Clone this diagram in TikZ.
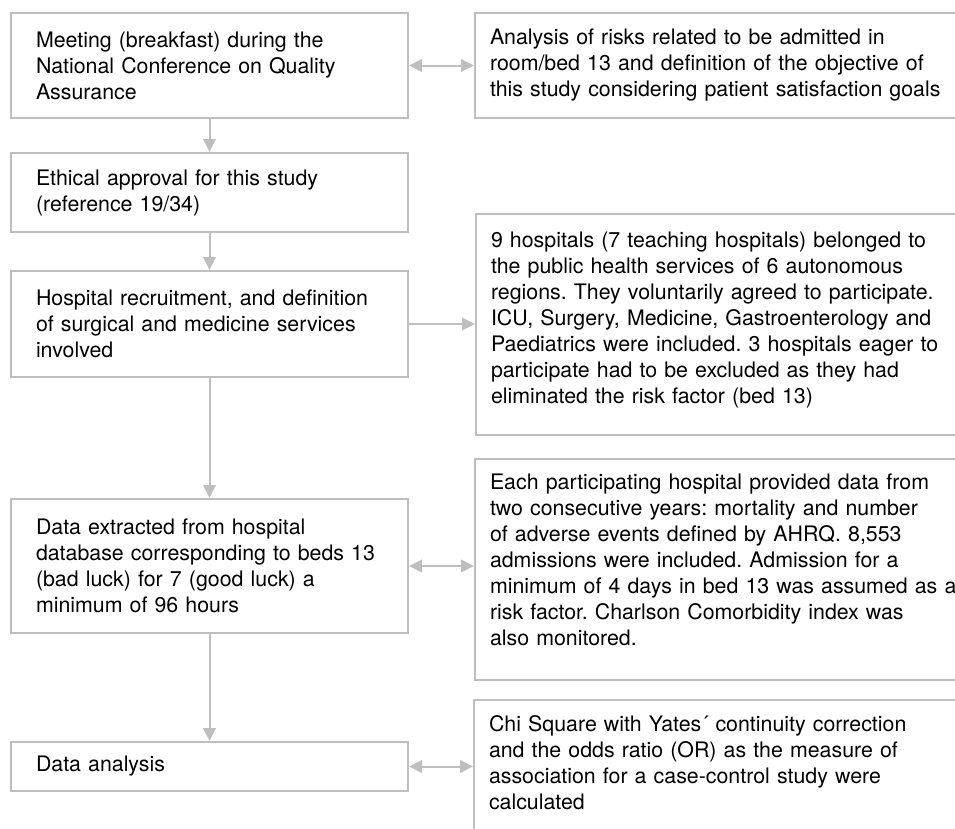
\documentclass[tikz,border=0pt]{standalone}
\usepackage{fontspec}
\setmainfont{TeX Gyre Heros}
\usetikzlibrary{arrows.meta}
\frenchspacing

\definecolor{lineGray}{RGB}{190,190,190}

\tikzset{
	stepBox/.style={rectangle, draw=lineGray, line width=0.04cm, fill=white, align=left, font=\fontsize{12.15}{14.8}\selectfont},
	leftBox/.style={stepBox, text width=6.94cm, inner xsep=0.5cm, inner ysep=0pt},
	sideBox/.style={stepBox, text width=10.1cm, inner xsep=0.3cm, inner ysep=0pt},
	oneWay/.style={draw=lineGray, line width=0.04cm, -{Triangle[length=0.26cm, width=0.25cm]}},
	twoWay/.style={draw=lineGray, line width=0.04cm, {Triangle[length=0.26cm, width=0.25cm]}-{Triangle[length=0.26cm, width=0.25cm]}}
}

\begin{document}
\begin{tikzpicture}
	\clip (0,0) rectangle (19.1,-16.56);

	\node[leftBox, minimum height=2.1cm](meeting) at (4.19,-1.31){Meeting (breakfast) during the\\National Conference on Quality\\Assurance};
	\node[leftBox, minimum height=1.58cm](ethics) at (4.19,-3.85){Ethical approval for this study\\(reference 19/34)};
	\node[leftBox, minimum height=2.12cm](recruit) at (4.19,-6.48){Hospital recruitment, and definition\\of surgical and medicine services\\involved};
	\node[leftBox, minimum height=2.68cm](extract) at (4.19,-11.32){Data extracted from hospital\\database corresponding to beds 13\\(bad luck) for 7 (good luck) a\\minimum of 96 hours};
	\node[leftBox, minimum height=0.98cm](analysis) at (4.19,-15.33){Data analysis};

	\node[sideBox, minimum height=2.1cm, anchor=west](risks) at (9.48,-1.31){Analysis of risks related to be admitted in\\room/bed 13 and definition of the objective of\\this study considering patient satisfaction goals};
	\node[sideBox, text height=0.66cm, text depth=3.76cm, anchor=north west](hospitals) at (9.5,-4.26){9 hospitals (7 teaching hospitals) belonged to\\the public health services of 6 autonomous\\regions. They voluntarily agreed to participate.\\ICU, Surgery, Medicine, Gastroenterology and\\Paediatrics were included. 3 hospitals eager to\\participate had to be excluded as they had\\eliminated the risk factor (bed 13)};
	\node[sideBox, text height=0.6cm, text depth=3.82cm, anchor=north west](admissions) at (9.48,-9.16){Each participating hospital provided data from\\two consecutive years: mortality and number\\of adverse events defined by AHRQ. 8,553\\admissions were included. Admission for a\\minimum of 4 days in bed 13 was assumed as a\\risk factor. Charlson Comorbidity index was\\also monitored.};
	\node[sideBox, text height=0.62cm, text depth=3cm, anchor=north west](stats) at (9.46,-13.98){Chi Square with Yates´ continuity correction\\and the odds ratio (OR) as the measure of\\association for a case-control study were\\calculated};

	\draw[oneWay](meeting) -- (ethics);
	\draw[oneWay](ethics) -- (recruit);
	\draw[oneWay](recruit) -- (extract);
	\draw[oneWay](extract) -- (analysis);

	\draw[twoWay](meeting.east) -- (meeting.east -| risks.west);
	\draw[oneWay](recruit.east) -- (recruit.east -| hospitals.west);
	\draw[twoWay](extract.east) -- (extract.east -| admissions.west);
	\draw[twoWay](analysis.east) -- (analysis.east -| stats.west);

\end{tikzpicture}
\end{document}
